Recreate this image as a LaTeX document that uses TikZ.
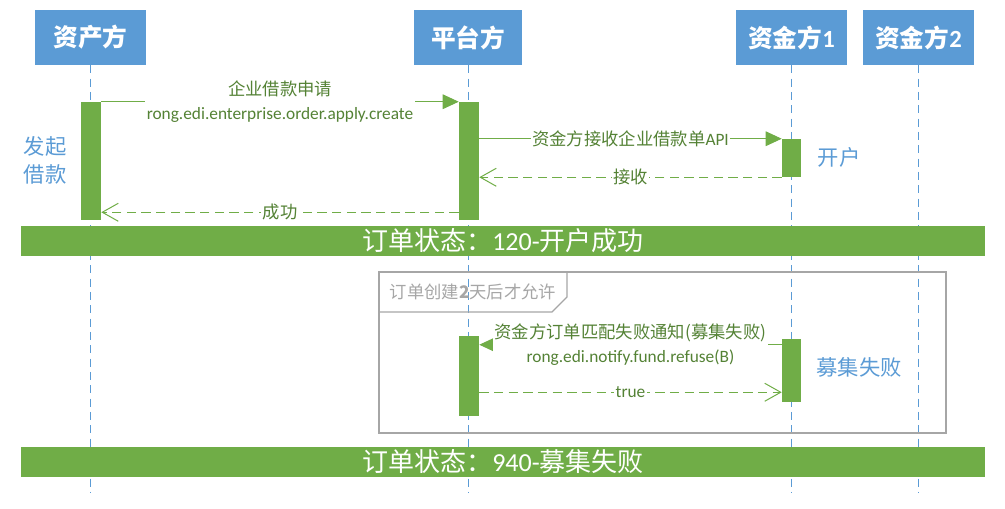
\documentclass[tikz,border=0pt]{standalone}
\usepackage{fontspec}
\setmainfont{Carlito}
\newfontfamily\zh{Noto Sans CJK SC}
\usepackage{tikz}
\usetikzlibrary{arrows.meta,fit}
\definecolor{hdrB}{RGB}{91,155,213}
\definecolor{barG}{RGB}{112,173,71}
\definecolor{msgG}{RGB}{84,130,53}
\definecolor{grpC}{RGB}{166,166,166}

\begin{document}
\begin{tikzpicture}[x=0.75pt, y=-0.75pt,
  hdr/.style={rectangle, fill=hdrB, inner sep=0pt, minimum width=83.25pt, minimum height=41.25pt, text=white, font=\bfseries\fontsize{18.5}{20}\selectfont},
  life/.style={draw=hdrB, line width=0.75pt, dash pattern=on 6pt off 4pt},
  act/.style={rectangle, fill=barG, inner sep=0pt},
  bar/.style={rectangle, fill=barG, inner sep=0pt, minimum width=723pt, minimum height=22.5pt, text=white, font=\fontsize{19.5}{22}\selectfont},
  msg/.style={draw=barG, line width=0.75pt, -{Triangle[length=12pt,width=11pt]}},
  ret/.style={draw=barG, line width=0.75pt, dash pattern=on 7pt off 4pt, -{Straight Barb[length=12pt,width=13.5pt]}},
  lbl/.style={fill=white, text=msgG, inner sep=1pt, align=center, font=\fontsize{13}{18}\selectfont},
  note/.style={text=hdrB, align=center, font=\zh\fontsize{16}{21}\selectfont},
  frame/.style={draw=grpC, line width=1pt}]
  \useasboundingbox (0,0) rectangle (1005,509);
  % participants
  \node[hdr] (zc) at (90.5,37.5) {\zh 资产方};
  \node[hdr, minimum width=81pt] (pt) at (468,37.5) {\zh 平台方};
  \node[hdr] (zj1) at (791.5,37.5) {{\zh 资金方}1};
  \node[hdr] (zj2) at (918.5,37.5) {{\zh 资金方}2};
  \coordinate (bot) at (0,493);
  \foreach \p in {zc,pt,zj1,zj2}
    \draw[life] (\p.south) -- (\p.south |- bot);
  % status bars
  \node[bar] (s1) at (503,241) {{\zh 订单状态：}120-{\zh 开户成功}};
  \node[bar] (s2) at (503,462) {{\zh 订单状态：}940-{\zh 募集失败}};
  % condition frame
  \node[frame, inner sep=0pt, fit={(379,272) (946,433)}] (grp) {};
  \draw[frame] (379,312) -- (552,312) -- (567,297) -- (567,272);
  \node[anchor=west, text=grpC, font=\zh\fontsize{13}{15}\selectfont] (cond) at (385,292) {订单创建{\bfseries 2}天后才允许};
  % activations
  \node[act, fit={(81,102) (101,220)}] (zca) {};
  \node[act, fit={(459,102) (479,220)}] (pta) {};
  \node[act, fit={(782,139) (801,177)}] (zja) {};
  \node[act, fit={(459,336) (479,416)}] (ptb) {};
  \node[act, fit={(782,339) (801,402)}] (zjb) {};
  % messages
  \draw[msg] (zca.north east) -- node[lbl] {{\zh 企业借款申请}\\rong.edi.enterprise.order.apply.create} (pta.north west);
  \draw[msg] (pta.east |- zja.north west) -- node[lbl] {{\zh 资金方接收企业借款单}API} (zja.north west);
  \draw[ret] (zja.south west) -- node[lbl] {\zh 接收} (pta.east |- zja.south west);
  \draw[ret] ([yshift=6pt]pta.south west) -- node[lbl] {\zh 成功} ([yshift=6pt]zca.south east);
  \draw[msg] ([yshift=-4.5pt]zjb.north west) -- node[lbl] {{\zh 资金方订单匹配失败通知(募集失败)}\\rong.edi.notify.fund.refuse(B)} ([yshift=-4.5pt]zjb.north west -| ptb.east);
  \draw[ret] ([yshift=7.5pt]zjb.south west -| ptb.east) -- node[lbl] {true} ([yshift=7.5pt]zjb.south west);
  % notes
  \node[note] (n1) at (45,160) {发起\\借款};
  \node[note] (n2) at (839,157) {开户};
  \node[note] (n3) at (859,367) {募集失败};
\end{tikzpicture}
\end{document}
